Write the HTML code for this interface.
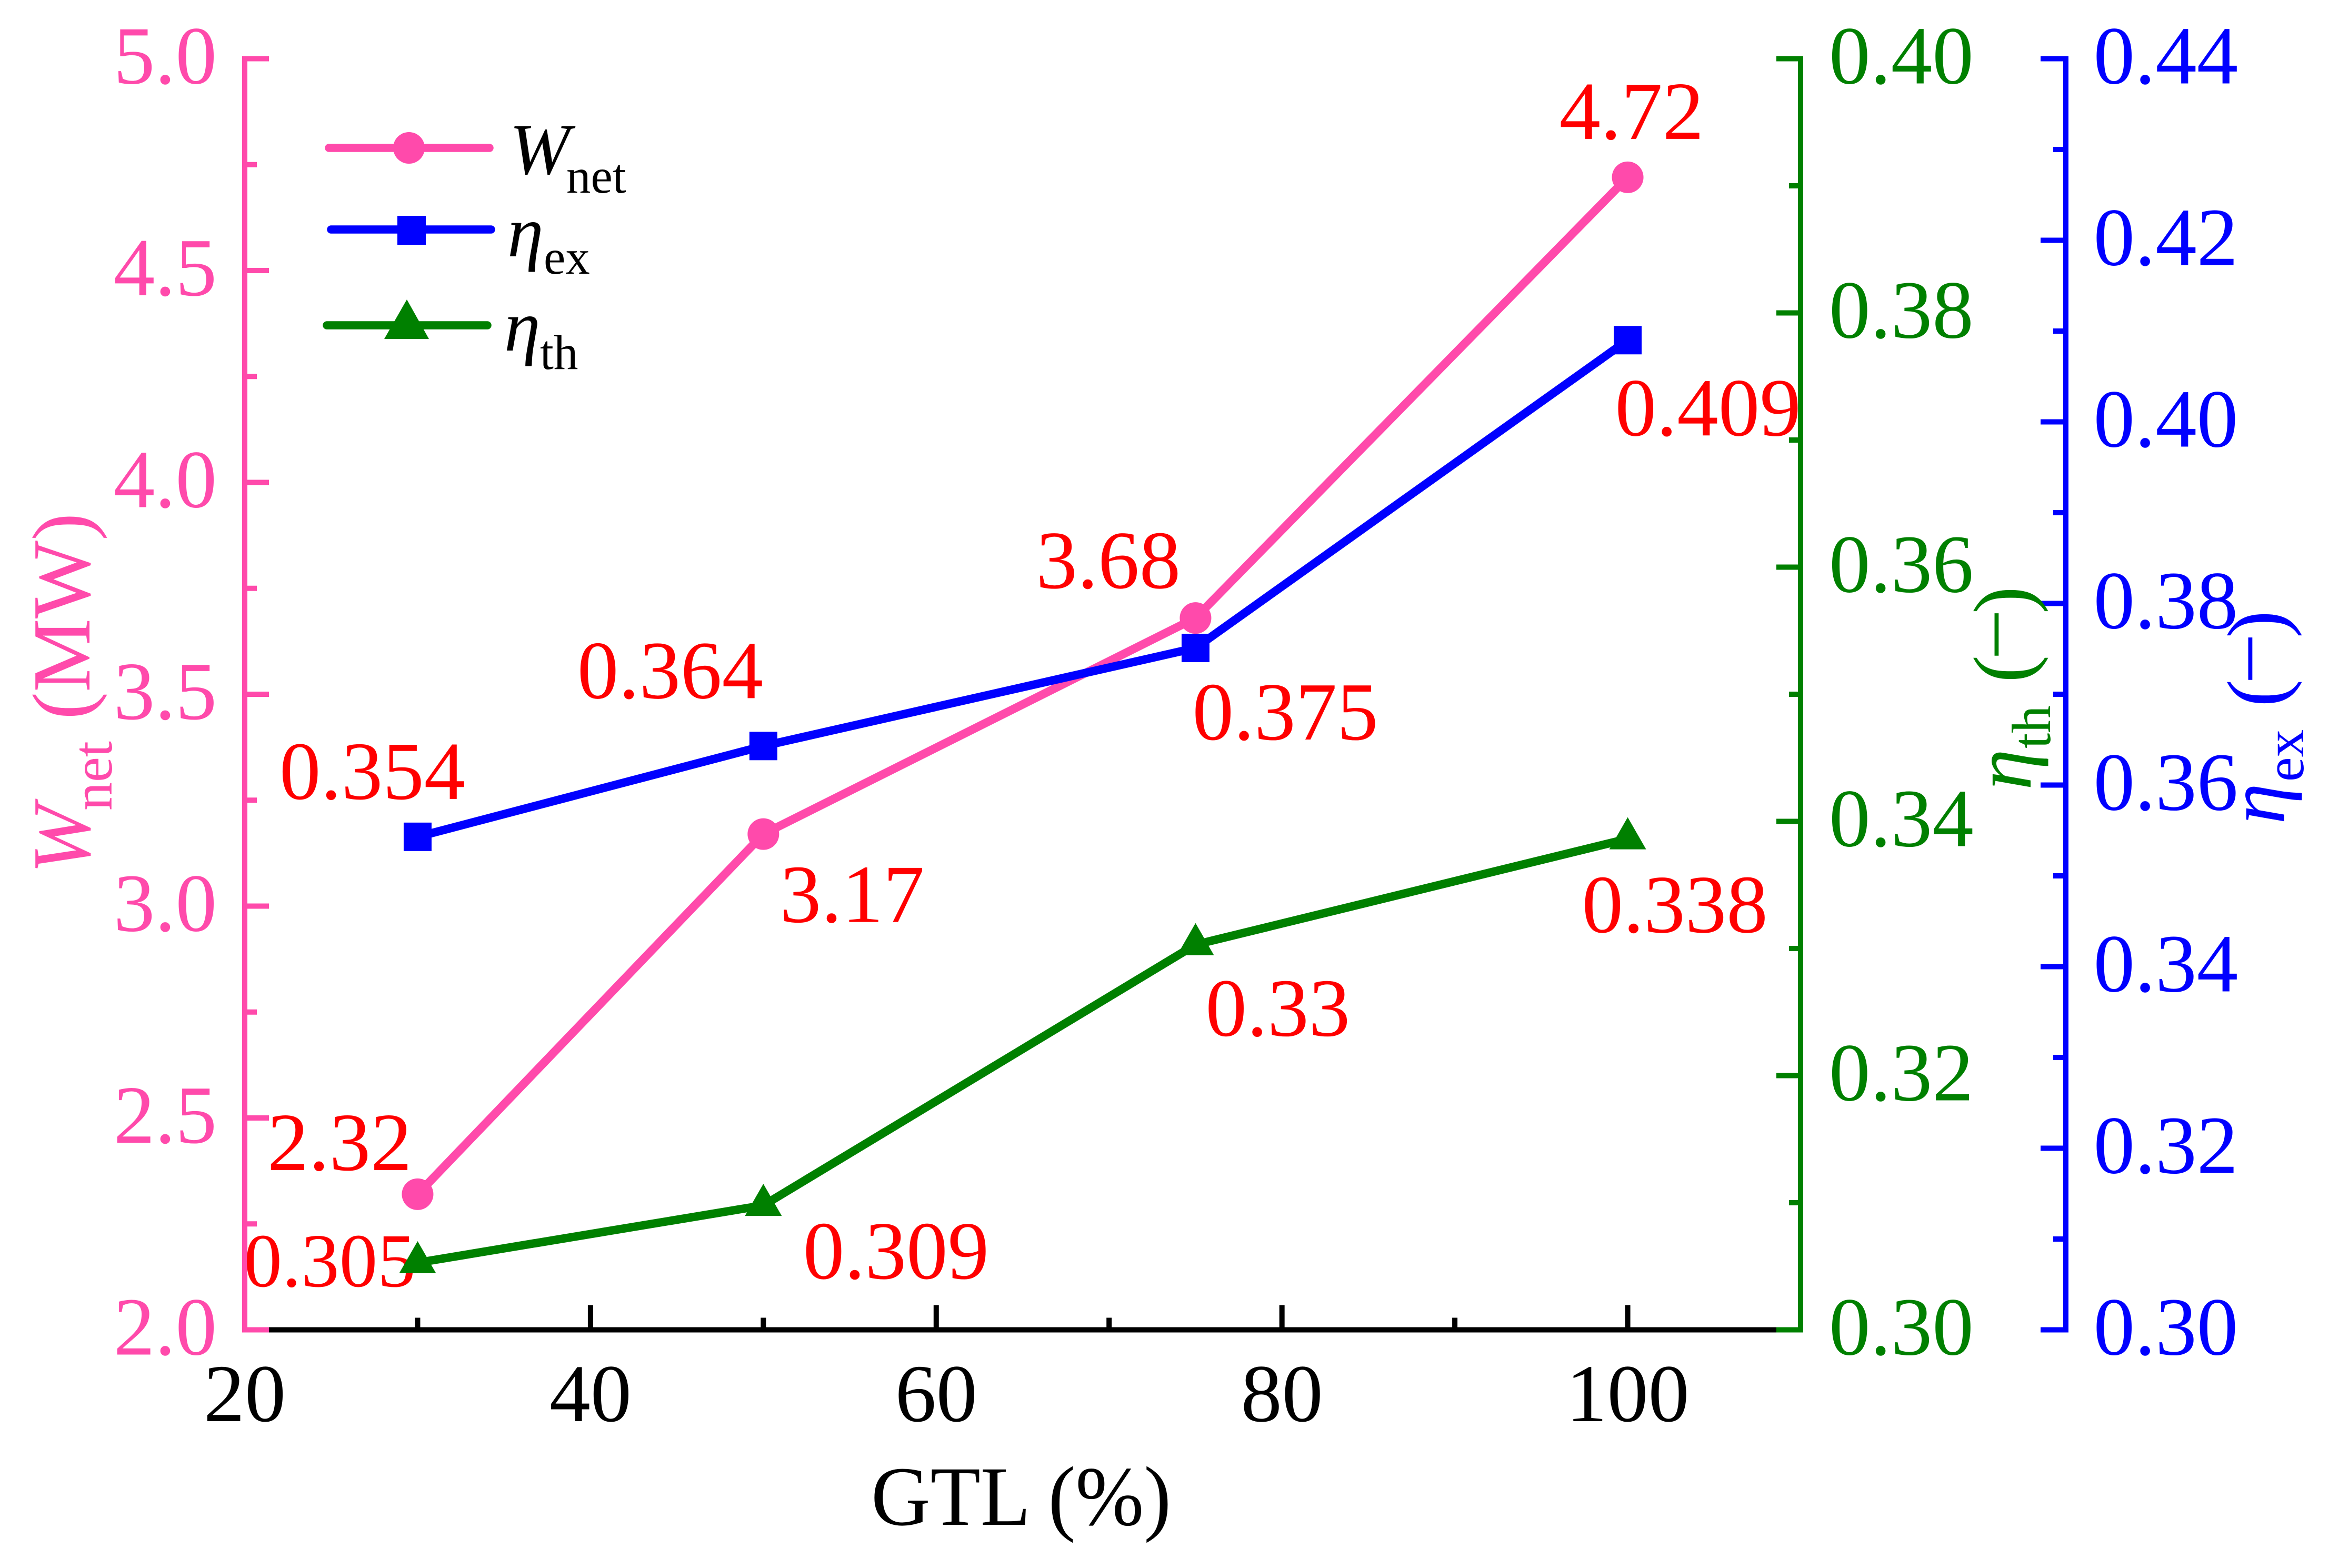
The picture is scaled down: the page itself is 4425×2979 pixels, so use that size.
<!DOCTYPE html>
<html lang="en">
<head>
<meta charset="utf-8">
<title>GTL performance chart</title>
<style>
html,body{margin:0;padding:0;background:#fff;width:4425px;height:2979px;overflow:hidden}
svg{display:block}
text{font-family:"Liberation Serif","DejaVu Serif",serif}
.it{font-style:italic}
</style>
</head>
<body>
<svg id="chart" xmlns="http://www.w3.org/2000/svg" width="4425" height="2979" viewBox="0 0 4425 2979">
  <rect x="0" y="0" width="4425" height="2979" fill="#ffffff"/>
  <g id="axes"></g>
  <g id="labels"></g>
  <g id="series"></g>

  <text transform="translate(1655,2897) scale(1,1.03)" font-size="156" fill="#000">GTL (%)</text>

  <g fill="#FF4AAB">
    <text class="it" transform="translate(170,1660) rotate(-90)" font-size="157">W</text>
    <text transform="translate(212,1540) rotate(-90)" font-size="108">net</text>
    <text transform="translate(170,1367) rotate(-90)" font-size="157">(MW)</text>
  </g>
  <g fill="#008000">
    <text class="it" transform="translate(3858,1501) rotate(-90)" font-size="157">η</text>
    <text transform="translate(3895,1422) rotate(-90)" font-size="105">th</text>
    <text transform="translate(3858,1297) rotate(-90)" font-size="157">(<tspan dy="-28">–</tspan><tspan dy="28">)</tspan></text>
  </g>
  <g fill="#0000FF">
    <text class="it" transform="translate(4340,1566) rotate(-90)" font-size="157">η</text>
    <text transform="translate(4376,1485) rotate(-90)" font-size="105">ex</text>
    <text transform="translate(4340,1343) rotate(-90)" font-size="157">(<tspan dy="-28">–</tspan><tspan dy="28">)</tspan></text>
  </g>

  <g>
    <g>
      <line x1="625" y1="281" x2="930" y2="281" stroke="#FF4AAB" stroke-width="15.5" stroke-linecap="round"/>
      <circle cx="777" cy="281" r="30" fill="#FF4AAB"/>
      <text class="it" x="968" y="330" font-size="138" fill="#000">W</text>
      <text x="1076" y="366" font-size="93" fill="#000">net</text>
    </g>
    <g>
      <line x1="629" y1="436" x2="933" y2="436" stroke="#0000FF" stroke-width="15.5" stroke-linecap="round"/>
      <rect x="755" y="410" width="54" height="55" fill="#0000FF"/>
      <text class="it" x="964" y="487" font-size="138" fill="#000">η</text>
      <text x="1033" y="520" font-size="93" fill="#000">ex</text>
    </g>
    <g>
      <line x1="621" y1="618" x2="926" y2="618" stroke="#008000" stroke-width="15.5" stroke-linecap="round"/>
      <polygon points="773,569 815,644 730,644" fill="#008000"/>
      <text class="it" x="958" y="666" font-size="138" fill="#000">η</text>
      <text x="1026" y="701" font-size="93" fill="#000">th</text>
    </g>
  </g>
</svg>

<script>
// ---- chart data ----
const gtlValues = [30, 50, 75, 100];
const wnetValues = [2.32, 3.17, 3.68, 4.72];
const etaExValues = [0.3543, 0.3643, 0.3751, 0.409];
const etaThValues = [0.30528, 0.30979, 0.3303, 0.33863];
const wnetLabels = ['2.32', '3.17', '3.68', '4.72'];
const etaExLabels = ['0.354', '0.364', '0.375', '0.409'];
const etaThLabels = ['0.305', '0.309', '0.33', '0.338'];
const xTickLabels = ['20', '40', '60', '80', '100'];
const wnetTickLabels = ['2.0', '2.5', '3.0', '3.5', '4.0', '4.5', '5.0'];
const etaThTickLabels = ['0.30', '0.32', '0.34', '0.36', '0.38', '0.40'];
const etaExTickLabels = ['0.30', '0.32', '0.34', '0.36', '0.38', '0.40', '0.42', '0.44'];

// ---- layout ----
const SVGNS = 'http://www.w3.org/2000/svg';
const PINK = '#FF4AAB', BLUE = '#0000FF', GREEN = '#008000', RED = '#FF0000';
const plotLeft = 465, plotRight = 3421, plotTop = 111.5, plotBottom = 2526.5;
const greenAxisX = 3421, blueAxisX = 3925;
const xMin = 20, xMax = 110;

function linear(d0, d1, r0, r1) {
  return function (v) { return r0 + (v - d0) / (d1 - d0) * (r1 - r0); };
}
const xScale = linear(xMin, xMax, plotLeft, plotRight);
const yWnet = linear(2, 5, plotBottom, plotTop);
const yEtaTh = linear(0.30, 0.40, plotBottom, plotTop);
const yEtaEx = linear(0.30, 0.44, plotBottom, plotTop);

const axesG = document.getElementById('axes');
const seriesG = document.getElementById('series');
const labelsG = document.getElementById('labels');

function svgEl(tag, parent, attrs) {
  const el = document.createElementNS(SVGNS, tag);
  for (const k in attrs) el.setAttribute(k, attrs[k]);
  parent.appendChild(el);
  return el;
}
function bar(parent, x1, y1, x2, y2, color) {
  return svgEl('rect', parent, {
    x: Math.min(x1, x2), y: Math.min(y1, y2),
    width: Math.abs(x2 - x1), height: Math.abs(y2 - y1), fill: color
  });
}

// ---- x axis ----
const xAxisLine = bar(axesG, plotLeft, plotBottom - 5, plotRight, plotBottom + 5, '#000');


xTickLabels.forEach(function (lbl, i) {
  const v = parseFloat(lbl);
  const px = xScale(v);
  const tick = bar(axesG, px - 5, plotBottom - 47, px + 5, plotBottom, '#000');
  
  
  const t = svgEl('text', axesG, { x: px, y: 2700, 'font-size': 156, 'text-anchor': 'middle', fill: '#000' });
  t.textContent = lbl;
  
  
  const step = parseFloat(xTickLabels[1]) - parseFloat(xTickLabels[0]);
  const mv = v + step / 2;
  if (mv < xMax) {
    const mpx = xScale(mv);
    const minor = bar(axesG, mpx - 5, plotBottom - 23, mpx + 5, plotBottom, '#000');
    
    
  }
});

// ---- left (Wnet) axis ----
const wnetAxisLine = bar(axesG, plotLeft - 5, plotTop - 5, plotLeft + 5, plotBottom + 5, PINK);


wnetTickLabels.forEach(function (lbl, i) {
  const v = parseFloat(lbl);
  const py = yWnet(v);
  const tick = bar(axesG, plotLeft, py - 5, plotLeft + 46, py + 5, PINK);
  
  
  const t = svgEl('text', axesG, { x: 412, y: py + 47, 'font-size': 157, 'text-anchor': 'end', fill: PINK });
  t.textContent = lbl;
  
  
  if (i < wnetTickLabels.length - 1) {
    const mpy = yWnet((v + parseFloat(wnetTickLabels[i + 1])) / 2);
    const minor = bar(axesG, plotLeft, mpy - 5, plotLeft + 23, mpy + 5, PINK);
    
    
  }
});

// ---- green (eta th) axis ----
const etaThAxisLine = bar(axesG, greenAxisX - 5, plotTop - 5, greenAxisX + 5, plotBottom + 5, GREEN);


etaThTickLabels.forEach(function (lbl, i) {
  const v = parseFloat(lbl);
  const py = yEtaTh(v);
  const tick = bar(axesG, greenAxisX - 46, py - 5, greenAxisX, py + 5, GREEN);
  
  
  const t = svgEl('text', axesG, { x: 3475, y: py + 47, 'font-size': 157, fill: GREEN });
  t.textContent = lbl;
  
  
  if (i < etaThTickLabels.length - 1) {
    const mpy = yEtaTh((v + parseFloat(etaThTickLabels[i + 1])) / 2);
    const minor = bar(axesG, greenAxisX - 22, mpy - 5, greenAxisX, mpy + 5, GREEN);
    
    
  }
});

// ---- blue (eta ex) axis ----
const etaExAxisLine = bar(axesG, blueAxisX - 5, plotTop - 5, blueAxisX + 5, plotBottom + 5, BLUE);


etaExTickLabels.forEach(function (lbl, i) {
  const v = parseFloat(lbl);
  const py = yEtaEx(v);
  const tick = bar(axesG, blueAxisX - 48, py - 5, blueAxisX, py + 5, BLUE);
  
  
  const t = svgEl('text', axesG, { x: 3977.5, y: py + 47, 'font-size': 157, fill: BLUE });
  t.textContent = lbl;
  
  
  if (i < etaExTickLabels.length - 1) {
    const mpy = yEtaEx((v + parseFloat(etaExTickLabels[i + 1])) / 2);
    const minor = bar(axesG, blueAxisX - 24, mpy - 5, blueAxisX, mpy + 5, BLUE);
    
    
  }
});

// ---- series ----
function pointsAttr(vals, yFn) {
  return vals.map(function (v, i) { return xScale(gtlValues[i]) + ',' + yFn(v); }).join(' ');
}
function seriesLine(vals, yFn, color) {
  return svgEl('polyline', seriesG, {
    points: pointsAttr(vals, yFn), fill: 'none', stroke: color,
    'stroke-width': 16, 'stroke-linejoin': 'round', 'stroke-linecap': 'round'
  });
}
const wnetLine = seriesLine(wnetValues, yWnet, PINK);


const etaExLine = seriesLine(etaExValues, yEtaEx, BLUE);


const etaThLine = seriesLine(etaThValues, yEtaTh, GREEN);



wnetValues.forEach(function (v, i) {
  const m = svgEl('circle', seriesG, { cx: xScale(gtlValues[i]), cy: yWnet(v), r: 30, fill: PINK });
  
  
});
etaExValues.forEach(function (v, i) {
  const m = svgEl('rect', seriesG, { x: xScale(gtlValues[i]) - 26.5, y: yEtaEx(v) - 27, width: 53, height: 54, fill: BLUE });
  
  
});
etaThValues.forEach(function (v, i) {
  const cx = xScale(gtlValues[i]), cy = yEtaTh(v);
  const m = svgEl('polygon', seriesG, {
    points: cx + ',' + (cy - 41) + ' ' + (cx + 35) + ',' + (cy + 20) + ' ' + (cx - 35) + ',' + (cy + 20),
    fill: GREEN
  });
  
  
});

// ---- value labels: each is anchored to its data point ----
function valueLabel(text, px, py, dx, dy, size) {
  const t = svgEl('text', labelsG, { x: px + dx, y: py + dy, 'font-size': size || 157, fill: RED });
  t.textContent = text;
  
  
  return t;
}
valueLabel(wnetLabels[0], xScale(gtlValues[0]), yWnet(wnetValues[0]), -285.5, -46);
valueLabel(wnetLabels[1], xScale(gtlValues[1]), yWnet(wnetValues[1]), 31.5, 167);
valueLabel(wnetLabels[2], xScale(gtlValues[2]), yWnet(wnetValues[2]), -303, -57);
valueLabel(wnetLabels[3], xScale(gtlValues[3]), yWnet(wnetValues[3]), -130, -73);
valueLabel(etaExLabels[0], xScale(gtlValues[0]), yEtaEx(etaExValues[0]), -262.5, -72);
valueLabel(etaExLabels[1], xScale(gtlValues[1]), yEtaEx(etaExValues[1]), -353.5, -91);
valueLabel(etaExLabels[2], xScale(gtlValues[2]), yEtaEx(etaExValues[2]), -6, 174);
valueLabel(etaExLabels[3], xScale(gtlValues[3]), yEtaEx(etaExValues[3]), -24, 181);
valueLabel(etaThLabels[0], xScale(gtlValues[0]), yEtaTh(etaThValues[0]), -330, 45, 145);
valueLabel(etaThLabels[1], xScale(gtlValues[1]), yEtaTh(etaThValues[1]), 75.5, 139);
valueLabel(etaThLabels[2], xScale(gtlValues[2]), yEtaTh(etaThValues[2]), 19, 173);
valueLabel(etaThLabels[3], xScale(gtlValues[3]), yEtaTh(etaThValues[3]), -87, 177.5);
</script>
</body>
</html>
